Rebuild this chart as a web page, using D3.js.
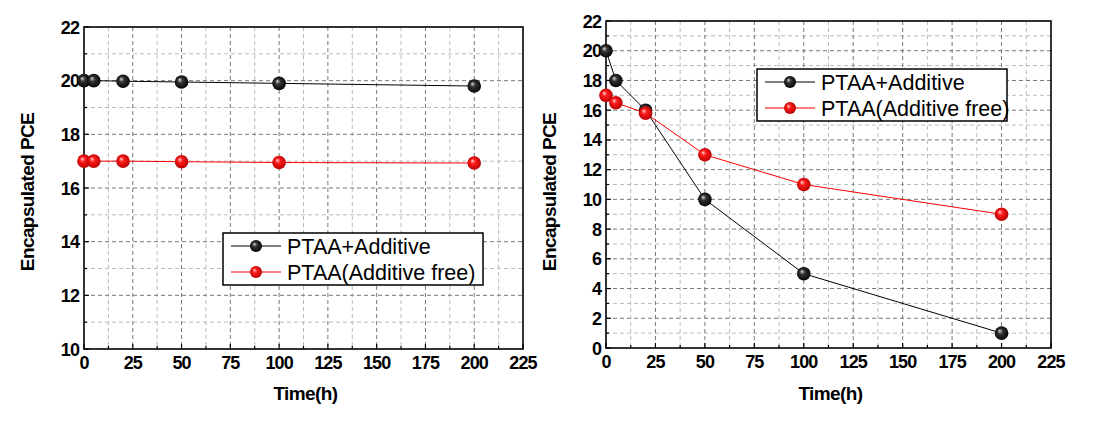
<!DOCTYPE html>
<html>
<meta charset="utf-8">
<title>Encapsulated PCE</title>
<style>
    body { margin: 0; background: #fff; }
    text { font-family: "Liberation Sans", Arial, sans-serif; }
    .tick-label { font-size: 18px; font-weight: bold; letter-spacing: -0.9px; }
    .axis-title { font-size: 19px; font-weight: bold; letter-spacing: -0.6px; }
    .legend-text { font-size: 21.5px; }
    .grid-major { stroke: #777; stroke-width: 1; stroke-dasharray: 4,3; }
    .grid-minor { stroke: #bbb; stroke-width: 1; stroke-dasharray: 4,3; }
    .frame { fill: none; stroke: #000; stroke-width: 1.6px; }
</style>
<script src="https://d3js.org/d3.v7.min.js"></script>
<body>
<script>
    // shared time axis
    const timeH = [0, 5, 20, 50, 100, 200]
    const xTicks = [0, 25, 50, 75, 100, 125, 150, 175, 200, 225]
    const seriesNames = ["PTAA+Additive", "PTAA(Additive free)"]

    // left panel
    const leftAdditive = [20, 20, 19.98, 19.95, 19.9, 19.8]
    const leftFree = [17, 17, 17, 16.98, 16.95, 16.93]
    const leftYTicks = [10, 12, 14, 16, 18, 20, 22]

    // right panel
    const rightAdditive = [20, 18, 16, 10, 5, 1]
    const rightFree = [17, 16.5, 15.8, 13, 11, 9]
    const rightYTicks = [0, 2, 4, 6, 8, 10, 12, 14, 16, 18, 20, 22]

    const svg = d3.select("body").append("svg")
        .attr("width", 1094).attr("height", 423)

    // sphere look for markers
    const defs = svg.append("defs")
    function sphere(id, hi, mid, dark) {
        let g = defs.append("radialGradient").attr("id", id)
            .attr("cx", "50%").attr("cy", "50%").attr("r", "55%")
            .attr("fx", "35%").attr("fy", "32%")
        g.append("stop").attr("offset", "0%").attr("stop-color", hi)
        g.append("stop").attr("offset", "35%").attr("stop-color", mid)
        g.append("stop").attr("offset", "100%").attr("stop-color", dark)
    }
    sphere("ballBlack", "#d8d8d8", "#333", "#000")
    sphere("ballRed", "#ffd0d0", "#ff1a1a", "#b00000")

    const colors = ["#000", "#ff0000"]
    const fills = ["url(#ballBlack)", "url(#ballRed)"]

    function panel(opt) {
        const x = d3.scaleLinear().domain([0, 225]).range([opt.x0, opt.x1])
        const y = d3.scaleLinear().domain(opt.yDomain).range([opt.y1, opt.y0])
        const g = svg.append("g")

        // minor + major grid
        const xMinor = d3.range(12.5, 225, 25)
        const yMinor = d3.range(opt.yDomain[0] + 1, opt.yDomain[1], 2)
        g.selectAll(".gxm").data(xMinor).enter().append("line")
            .attr("class", "grid-minor")
            .attr("x1", d => x(d)).attr("x2", d => x(d))
            .attr("y1", opt.y0).attr("y2", opt.y1)
        g.selectAll(".gym").data(yMinor).enter().append("line")
            .attr("class", "grid-minor")
            .attr("y1", d => y(d)).attr("y2", d => y(d))
            .attr("x1", opt.x0).attr("x2", opt.x1)
        g.selectAll(".gx").data(xTicks.slice(1, -1)).enter().append("line")
            .attr("class", "grid-major")
            .attr("x1", d => x(d)).attr("x2", d => x(d))
            .attr("y1", opt.y0).attr("y2", opt.y1)
        g.selectAll(".gy").data(opt.yTicks.slice(1, -1)).enter().append("line")
            .attr("class", "grid-major")
            .attr("y1", d => y(d)).attr("y2", d => y(d))
            .attr("x1", opt.x0).attr("x2", opt.x1)

        // inward ticks
        const xAll = d3.range(0, 225.1, 12.5)
        const yAll = d3.range(opt.yDomain[0], opt.yDomain[1] + 0.1, 1)
        g.selectAll(".tx").data(xAll).enter().append("line")
            .attr("stroke", "#000").attr("stroke-width", 1.2)
            .attr("x1", d => x(d)).attr("x2", d => x(d))
            .attr("y1", opt.y1).attr("y2", (d, i) => opt.y1 - (i % 2 ? 3 : 5))
        g.selectAll(".ty").data(yAll).enter().append("line")
            .attr("stroke", "#000").attr("stroke-width", 1.2)
            .attr("y1", d => y(d)).attr("y2", d => y(d))
            .attr("x1", opt.x0).attr("x2", (d, i) => opt.x0 + (i % 2 ? 3 : 5))

        g.append("rect").attr("class", "frame")
            .attr("x", opt.x0).attr("y", opt.y0)
            .attr("width", opt.x1 - opt.x0).attr("height", opt.y1 - opt.y0)

        // tick labels
        g.selectAll(".lx").data(xTicks).enter().append("text")
            .attr("class", "tick-label")
            .attr("x", d => x(d)).attr("y", opt.y1 + 20)
            .attr("text-anchor", "middle").text(d => d)
        g.selectAll(".ly").data(opt.yTicks).enter().append("text")
            .attr("class", "tick-label")
            .attr("x", opt.x0 - 5).attr("y", d => y(d) + 6.5)
            .attr("text-anchor", "end").text(d => d)

        // titles
        g.append("text").attr("class", "axis-title")
            .attr("x", (opt.x0 + opt.x1) / 2 + 2).attr("y", 400)
            .attr("text-anchor", "middle").text("Time(h)")
        g.append("text").attr("class", "axis-title")
            .attr("transform", `translate(${opt.titleX},${opt.titleY}) rotate(-90)`)
            .attr("text-anchor", "middle").text("Encapsulated PCE")

        // series
        const line = d3.line().x((d, i) => x(timeH[i])).y(d => y(d))
        opt.series.forEach((s, k) => {
            g.append("path").datum(s)
                .attr("fill", "none").attr("stroke", colors[k]).attr("stroke-width", 1)
                .attr("d", line)
        })
        opt.series.forEach((s, k) => {
            g.selectAll(".m" + k).data(s).enter().append("circle")
                .attr("cx", (d, i) => x(timeH[i])).attr("cy", d => y(d))
                .attr("r", 6.8).attr("fill", fills[k])
        })

        // legend
        const lg = g.append("g").attr("transform", `translate(${opt.lx},${opt.ly})`)
        lg.append("rect").attr("width", opt.lw).attr("height", 52)
            .attr("fill", "#fff").attr("stroke", "#000").attr("stroke-width", 1.5)
        seriesNames.forEach((name, k) => {
            const cy = 13 + k * 26
            lg.append("line").attr("x1", 8).attr("x2", 58).attr("y1", cy).attr("y2", cy)
                .attr("stroke", colors[k]).attr("stroke-width", 1.2)
            lg.append("circle").attr("cx", 33).attr("cy", cy).attr("r", 6)
                .attr("fill", fills[k])
            lg.append("text").attr("class", "legend-text")
                .attr("x", 64).attr("y", cy + 7.5).text(name)
        })
    }

    panel({
        x0: 84, x1: 523, y0: 27, y1: 349,
        yDomain: [10, 22], yTicks: leftYTicks,
        series: [leftAdditive, leftFree],
        titleX: 34, titleY: 192,
        lx: 223, ly: 233, lw: 260
    })
    panel({
        x0: 606, x1: 1051, y0: 21, y1: 348,
        yDomain: [0, 22], yTicks: rightYTicks,
        series: [rightAdditive, rightFree],
        titleX: 556, titleY: 192,
        lx: 757, ly: 69, lw: 250
    })
</script>
</body>
</html>
